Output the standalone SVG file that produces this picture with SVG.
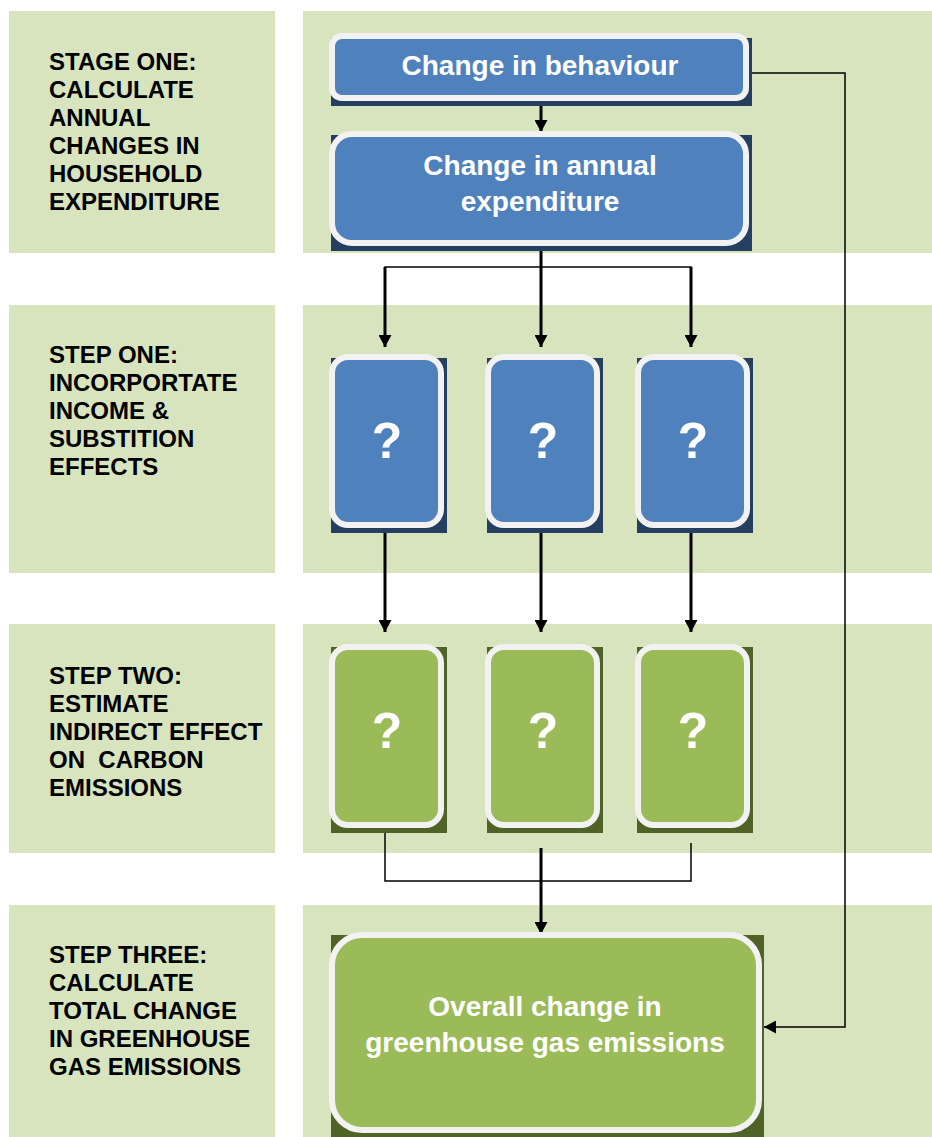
<svg xmlns="http://www.w3.org/2000/svg" width="932" height="1137" viewBox="0 0 932 1137">
<defs>
<style>
.panel{fill:#D7E4BD}
.lbl{font-family:"Liberation Sans",Arial,sans-serif;font-weight:bold;font-size:24px;fill:#000}
.bshadow{fill:#243F60}
.gshadow{fill:#4F6228}
.bbox{fill:#4F81BD;stroke:#F2F2F2;stroke-width:6}
.gbox{fill:#9BBB59;stroke:#F2F2F2;stroke-width:6}
.t{font-family:"Liberation Sans",Arial,sans-serif;font-weight:bold;font-size:28px;fill:#fff;text-anchor:middle}
.q{font-family:"Liberation Sans",Arial,sans-serif;font-weight:bold;font-size:50px;fill:#fff;text-anchor:middle}
.thick{fill:none;stroke:#000;stroke-width:3}
.thin{fill:none;stroke:#000;stroke-width:1.5}
</style>
<marker id="ah" markerUnits="userSpaceOnUse" markerWidth="13" markerHeight="13" refX="12" refY="6.5" orient="auto">
<path d="M0,0 L12,6.5 L0,13 z" fill="#000"/>
</marker>
</defs>
<rect width="932" height="1137" fill="#fff"/>
<g id="panels">
<rect class="panel" x="9" y="11" width="266" height="242"/>
<rect class="panel" x="303" y="11" width="629" height="242"/>
<rect class="panel" x="9" y="305" width="266" height="268"/>
<rect class="panel" x="303" y="305" width="629" height="268"/>
<rect class="panel" x="9" y="624" width="266" height="229"/>
<rect class="panel" x="303" y="624" width="629" height="229"/>
<rect class="panel" x="9" y="905" width="266" height="232"/>
<rect class="panel" x="303" y="905" width="629" height="232"/>
</g>
<g id="stage-labels">
<text class="lbl" x="49" y="70">STAGE ONE:</text>
<text class="lbl" x="49" y="98">CALCULATE</text>
<text class="lbl" x="49" y="126">ANNUAL</text>
<text class="lbl" x="49" y="154">CHANGES IN</text>
<text class="lbl" x="49" y="182">HOUSEHOLD</text>
<text class="lbl" x="49" y="210">EXPENDITURE</text>
<text class="lbl" x="49" y="363">STEP ONE:</text>
<text class="lbl" x="49" y="391">INCORPORTATE</text>
<text class="lbl" x="49" y="419">INCOME &amp;</text>
<text class="lbl" x="49" y="447">SUBSTITION</text>
<text class="lbl" x="49" y="475">EFFECTS</text>
<text class="lbl" x="49" y="684">STEP TWO:</text>
<text class="lbl" x="49" y="712">ESTIMATE</text>
<text class="lbl" x="49" y="740">INDIRECT EFFECT</text>
<text class="lbl" x="49" y="768" xml:space="preserve">ON  CARBON</text>
<text class="lbl" x="49" y="796">EMISSIONS</text>
<text class="lbl" x="49" y="963">STEP THREE:</text>
<text class="lbl" x="49" y="991">CALCULATE</text>
<text class="lbl" x="49" y="1019">TOTAL CHANGE</text>
<text class="lbl" x="49" y="1047">IN GREENHOUSE</text>
<text class="lbl" x="49" y="1075">GAS EMISSIONS</text>
</g>
<g id="connectors">
<line class="thick" x1="541" y1="106" x2="541" y2="132" marker-end="url(#ah)"/>
<line class="thick" x1="541" y1="251" x2="541" y2="347" marker-end="url(#ah)"/>
<polyline class="thin" points="385,280 385,267 691,267 691,280"/>
<line class="thick" x1="385" y1="267" x2="385" y2="347" marker-end="url(#ah)"/>
<line class="thick" x1="691" y1="267" x2="691" y2="347" marker-end="url(#ah)"/>
<line class="thick" x1="385" y1="533" x2="385" y2="632" marker-end="url(#ah)"/>
<line class="thick" x1="541" y1="533" x2="541" y2="632" marker-end="url(#ah)"/>
<line class="thick" x1="691" y1="533" x2="691" y2="632" marker-end="url(#ah)"/>
<polyline class="thin" points="385,833 385,881 691,881 691,843"/>
<line class="thick" x1="541" y1="848" x2="541" y2="934" marker-end="url(#ah)"/>
<polyline class="thin" points="752,73 845,73 845,1027 764,1027" marker-end="url(#ah)"/>
</g>
<g id="node-behaviour">
<rect class="bshadow" x="331" y="38" width="421" height="68"/>
<rect class="bbox" x="332" y="36" width="414" height="62" rx="10"/>
<text class="t" x="540" y="75">Change in behaviour</text>
</g>
<g id="node-expenditure">
<rect class="bshadow" x="331" y="135" width="421" height="116"/>
<rect class="bbox" x="332" y="134" width="414" height="109" rx="20"/>
<text class="t" x="540" y="175">Change in annual</text>
<text class="t" x="540" y="211">expenditure</text>
</g>
<g id="node-b1">
<rect class="bshadow" x="331" y="358" width="116" height="175"/>
<rect class="bbox" x="332" y="357" width="109" height="168" rx="16"/>
<text class="q" x="387" y="458">?</text>
</g>
<g id="node-b2">
<rect class="bshadow" x="487" y="358" width="116" height="175"/>
<rect class="bbox" x="488" y="357" width="109" height="168" rx="16"/>
<text class="q" x="543" y="458">?</text>
</g>
<g id="node-b3">
<rect class="bshadow" x="637" y="358" width="116" height="175"/>
<rect class="bbox" x="638" y="357" width="109" height="168" rx="16"/>
<text class="q" x="693" y="458">?</text>
</g>
<g id="node-g1">
<rect class="gshadow" x="331" y="647" width="116" height="186"/>
<rect class="gbox" x="332" y="647" width="109" height="178" rx="16"/>
<text class="q" x="387" y="748">?</text>
</g>
<g id="node-g2">
<rect class="gshadow" x="487" y="647" width="116" height="186"/>
<rect class="gbox" x="488" y="647" width="109" height="178" rx="16"/>
<text class="q" x="543" y="748">?</text>
</g>
<g id="node-g3">
<rect class="gshadow" x="637" y="647" width="116" height="186"/>
<rect class="gbox" x="638" y="647" width="109" height="178" rx="16"/>
<text class="q" x="693" y="748">?</text>
</g>
<g id="node-overall">
<rect class="gshadow" x="331" y="935" width="433" height="202"/>
<rect class="gbox" x="332" y="935" width="427" height="195" rx="30"/>
<text class="t" x="545" y="1016">Overall change in</text>
<text class="t" x="545" y="1052">greenhouse gas emissions</text>
</g>
</svg>
